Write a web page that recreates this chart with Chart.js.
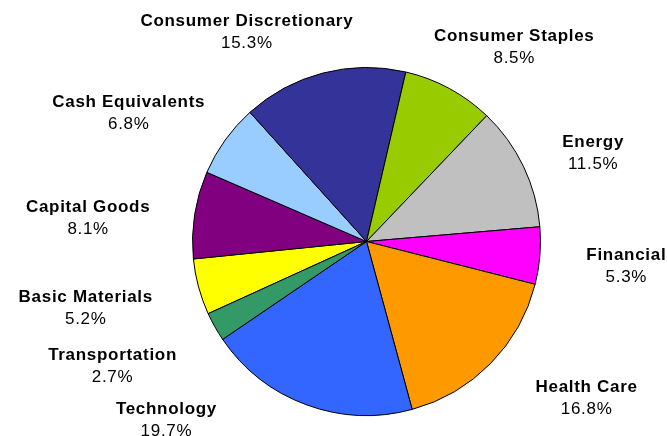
<!DOCTYPE html>
<html>
<head>
<meta charset="utf-8">
<script src="https://cdn.jsdelivr.net/npm/chart.js@4.4.1/dist/chart.umd.min.js"></script>
<style>
  html, body { margin: 0; padding: 0; background: #fff; }
  #wrap { width: 667px; height: 436px; }
</style>
</head>
<body>
<div id="wrap"><canvas id="pieChart" width="667" height="436"></canvas></div>
<script>
// sector weights, alphabetical, drawn clockwise
var sectors = ['Basic Materials', 'Capital Goods', 'Cash Equivalents', 'Consumer Discretionary',
    'Consumer Staples', 'Energy', 'Financial', 'Health Care', 'Technology', 'Transportation'];
var weights = [5.2, 8.1, 6.8, 15.3, 8.5, 11.5, 5.3, 16.8, 19.7, 2.7];
var sliceColors = ['#ffff00', '#800080', '#99ccff', '#333399', '#99cc00',
    '#c0c0c0', '#ff00ff', '#ff9900', '#3366ff', '#339966'];

// label layout: degrees to turn each label away from its slice's middle
// (Excel slid the top / bottom ones along the rim to keep them on the chart)
var labelTurn = [3.0, 0.6, 1.0, -7.0, 1.1, 0.2, -2.7, -8.8, 27.4, 2.6];

var FONT = '"Liberation Sans", Arial, sans-serif';

var outsideLabels = {
    id: 'outsideLabels',
    afterDatasetsDraw: function (chart) {
        var ctx = chart.ctx;
        var meta = chart.getDatasetMeta(0);
        var gap = 46, bias = 16, hh = 22;
        ctx.save();
        ctx.textAlign = 'center';
        ctx.textBaseline = 'middle';
        ctx.fillStyle = '#000';
        ctx.letterSpacing = '0.7px';
        meta.data.forEach(function (arc, i) {
            var p = arc.getProps(['x', 'y', 'startAngle', 'endAngle', 'outerRadius'], true);
            var name = sectors[i];
            var pct = weights[i].toFixed(1) + '%';
            ctx.font = 'bold 17px ' + FONT;
            var w1 = ctx.measureText(name).width;
            ctx.font = '17px ' + FONT;
            var w2 = ctx.measureText(pct).width;
            var hw = Math.max(w1, w2) / 2;

            var a = (p.startAngle + p.endAngle) / 2 + labelTurn[i] * Math.PI / 180;
            var ux = Math.cos(a), uy = Math.sin(a);
            var x = p.x + ux * (p.outerRadius + gap + hw);
            var y = p.y + uy * (p.outerRadius + gap + hh) + bias;

            ctx.font = 'bold 17px ' + FONT;
            ctx.fillText(name, x, y - 11);
            ctx.font = '17px ' + FONT;
            ctx.fillText(pct, x, y + 11);
        });
        ctx.restore();
    }
};

var ctxPie = document.getElementById('pieChart').getContext('2d');
var pieChart = new Chart(ctxPie, {
    type: 'pie',
    data: {
        labels: sectors,
        datasets: [{
            data: weights,
            backgroundColor: sliceColors,
            borderColor: '#000000',
            borderWidth: 1
        }]
    },
    options: {
        responsive: false,
        animation: false,
        devicePixelRatio: 1,
        rotation: -114.5,
        layout: {
            padding: { top: 67, bottom: 20, left: 192, right: 126 }
        },
        plugins: {
            legend: { display: false },
            tooltip: { enabled: false }
        }
    },
    plugins: [outsideLabels]
});
</script>
</body>
</html>
